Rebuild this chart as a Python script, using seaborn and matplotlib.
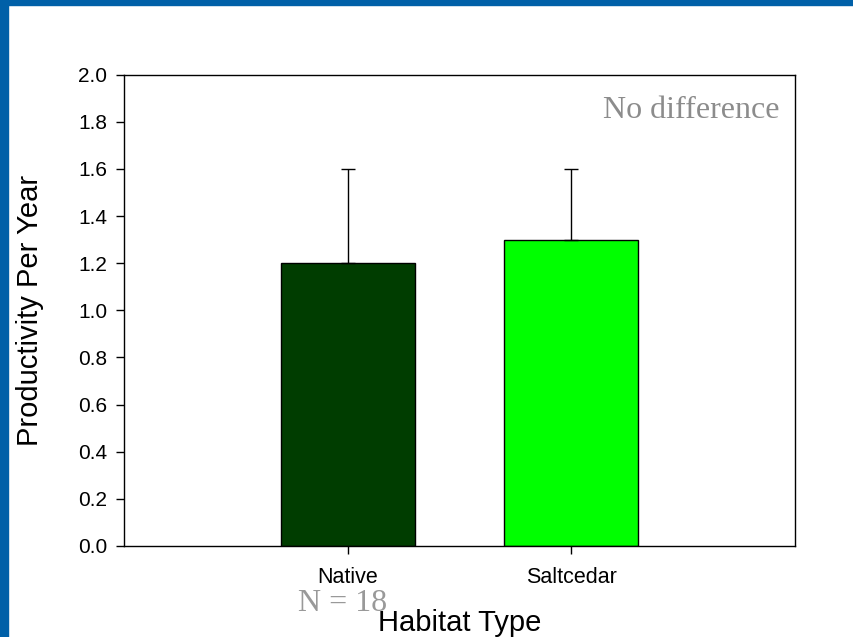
import matplotlib
matplotlib.use("Agg")
import matplotlib.pyplot as plt
import matplotlib.patches as mpatches
import pandas as pd
import seaborn as sns

# chart data
habitats = ["Native", "Saltcedar"]
productivity = [1.2, 1.3]
upper_err = [0.4, 0.3]
bar_colors = ["#003d00", "#00ff00"]
y_ticks = [0.0, 0.2, 0.4, 0.6, 0.8, 1.0, 1.2, 1.4, 1.6, 1.8, 2.0]

df = pd.DataFrame({"Habitat": habitats, "Productivity": productivity})

sns.set_style("white")
plt.rcParams["font.family"] = ["Liberation Sans", "DejaVu Sans"]
plt.rcParams["text.color"] = "black"

fig = plt.figure(figsize=(8.54, 6.37), dpi=100)
ax = fig.add_axes([0.1452, 0.1429, 0.7857, 0.7399])

sns.barplot(data=df, x="Habitat", y="Productivity", hue="Habitat",
            palette=bar_colors, saturation=1, legend=False, width=0.6,
            errorbar=None, edgecolor="black", linewidth=1, ax=ax)

# upper error bars only
ax.errorbar(range(len(habitats)), productivity,
            yerr=[[0] * len(habitats), upper_err],
            fmt="none", ecolor="black", elinewidth=1, capsize=5, capthick=1)

ax.set_xlim(-1, 2)
ax.set_ylim(0, 2.0)
ax.set_yticks(y_ticks)
ax.set_yticklabels([f"{t:.1f}" for t in y_ticks])
ax.set_xlabel("")
ax.set_ylabel("")

for s in ax.spines.values():
    s.set_color("black")
    s.set_linewidth(1)

ax.tick_params(axis="y", left=True, direction="out", length=6, width=1,
               labelsize=15, pad=6, colors="black")
ax.tick_params(axis="x", bottom=True, direction="out", length=6, width=1,
               labelsize=15.5, pad=9, colors="black")

# axis titles
fig.text(460 / 854, 1 - 631 / 637, "Habitat Type", fontsize=21,
         ha="center", va="baseline", color="black")
fig.text(30 / 854, 1 - 310 / 637, "Productivity Per Year", fontsize=21,
         rotation=90, ha="center", va="center", color="black")

# annotations
fig.text(780 / 854, 1 - 110 / 637, "No difference", fontsize=23,
         family="Liberation Serif", color="#8c8c8c", ha="right", va="center")
fig.text(343 / 854, 1 - 611 / 637, "N = 18", fontsize=23,
         family="Liberation Serif", color="#999999", ha="center",
         va="baseline")

# blue frame on top and left
fig.patches.append(mpatches.Rectangle((0, 1 - 5 / 637), 1, 5 / 637,
                   transform=fig.transFigure, color="#0060a8", zorder=5))
fig.patches.append(mpatches.Rectangle((0, 0), 8 / 854, 1,
                   transform=fig.transFigure, color="#0060a8", zorder=5))

fig.savefig("out.png", dpi=100)
